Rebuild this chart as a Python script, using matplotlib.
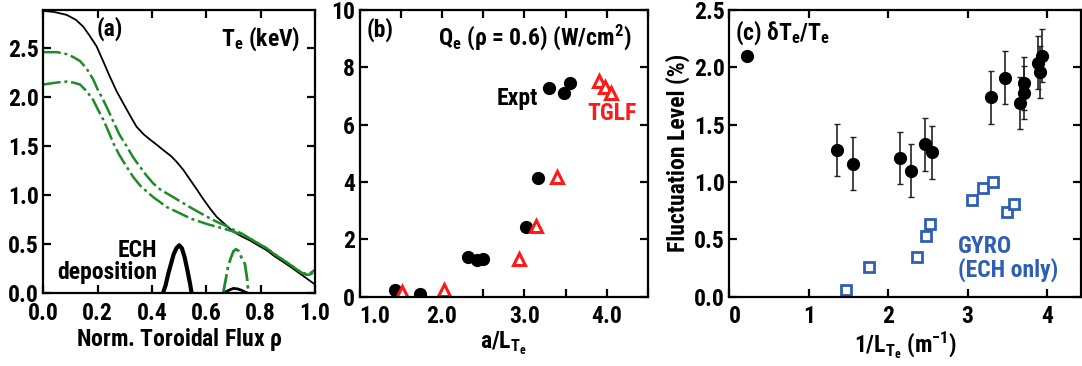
import matplotlib
matplotlib.use("Agg")
import matplotlib.pyplot as plt
from matplotlib import font_manager
from matplotlib.ticker import MultipleLocator, FormatStrFormatter

# ---------------- data ----------------
# panel (a): Te profiles
rho_te = [0.0, 0.04, 0.086, 0.12, 0.147, 0.17, 0.196, 0.22, 0.245, 0.27, 0.294, 0.32, 0.343,
          0.37, 0.392, 0.42, 0.442, 0.47, 0.491, 0.515, 0.54, 0.565, 0.589, 0.615, 0.638,
          0.67, 0.699, 0.73, 0.76, 0.79, 0.822, 0.85, 0.883, 0.915, 0.945, 0.975, 1.0]
te_black = [2.88, 2.87, 2.84, 2.79, 2.72, 2.63, 2.52, 2.37, 2.21, 2.06, 1.94, 1.81, 1.70,
            1.62, 1.57, 1.51, 1.46, 1.40, 1.34, 1.26, 1.16, 1.06, 0.96, 0.86, 0.78,
            0.70, 0.63, 0.58, 0.54, 0.49, 0.44, 0.38, 0.32, 0.26, 0.20, 0.14, 0.09]
rho_g = [0.0, 0.05, 0.086, 0.11, 0.135, 0.16, 0.184, 0.20, 0.221, 0.24, 0.258, 0.28, 0.307,
         0.33, 0.356, 0.38, 0.405, 0.43, 0.454, 0.485, 0.515, 0.545, 0.577, 0.61, 0.638,
         0.67, 0.699, 0.73, 0.76, 0.79, 0.822, 0.85, 0.883, 0.915, 0.945, 0.965, 0.98, 1.0]
te_green_hi = [2.46, 2.46, 2.44, 2.41, 2.37, 2.29, 2.18, 2.08, 1.97, 1.86, 1.75, 1.62, 1.50,
               1.39, 1.29, 1.20, 1.12, 1.06, 1.02, 0.97, 0.92, 0.87, 0.82, 0.77, 0.73,
               0.69, 0.65, 0.61, 0.56, 0.51, 0.46, 0.40, 0.34, 0.28, 0.22, 0.20, 0.20, 0.24]
te_green_lo = [2.13, 2.15, 2.16, 2.15, 2.13, 2.06, 1.97, 1.88, 1.77, 1.65, 1.53, 1.41, 1.29,
               1.19, 1.10, 1.04, 0.98, 0.93, 0.88, 0.84, 0.80, 0.76, 0.73, 0.70, 0.68,
               0.655, 0.63, 0.60, 0.56, 0.51, 0.46, 0.40, 0.34, 0.28, 0.22, 0.19, 0.19, 0.22]
# ECH deposition profiles
rho_ech_b = [0.44, 0.45, 0.46, 0.47, 0.48, 0.49, 0.50, 0.51, 0.52, 0.53, 0.54, 0.546]
ech_b = [0.0, 0.08, 0.20, 0.30, 0.40, 0.46, 0.49, 0.46, 0.37, 0.24, 0.10, 0.0]
rho_ech_b2 = [0.66, 0.675, 0.69, 0.70, 0.715, 0.73, 0.745, 0.755]
ech_b2 = [0.0, 0.02, 0.04, 0.05, 0.045, 0.03, 0.01, 0.0]
rho_ech_g = [0.662, 0.67, 0.68, 0.69, 0.70, 0.709, 0.72, 0.73, 0.742, 0.75, 0.755]
ech_g = [0.0, 0.12, 0.27, 0.36, 0.43, 0.45, 0.43, 0.36, 0.30, 0.15, 0.0]

# panel (b): Qe vs a/LTe
b_expt_x = [1.43, 1.73, 2.32, 2.43, 2.50, 3.02, 3.17, 3.30, 3.48, 3.55]
b_expt_y = [0.25, 0.10, 1.37, 1.27, 1.30, 2.42, 4.14, 7.27, 7.09, 7.47]
b_tglf_x = [1.52, 2.03, 2.93, 3.14, 3.39, 3.90, 3.98, 4.05]
b_tglf_y = [0.16, 0.25, 1.33, 2.48, 4.16, 7.51, 7.33, 7.12]

# panel (c): fluctuation level vs 1/LTe
c_expt_x = [0.22, 1.35, 1.56, 2.15, 2.29, 2.46, 2.55, 3.29, 3.47, 3.66, 3.71, 3.71, 3.89, 3.91, 3.94]
c_expt_y = [2.10, 1.28, 1.16, 1.21, 1.10, 1.33, 1.26, 1.74, 1.91, 1.69, 1.86, 1.78, 2.04, 1.96, 2.10]
c_expt_err = [0.0, 0.23, 0.23, 0.23, 0.23, 0.23, 0.23, 0.23, 0.23, 0.23, 0.23, 0.23, 0.23, 0.23, 0.23]
c_gyro_x = [1.47, 1.76, 2.36, 2.47, 2.53, 3.05, 3.19, 3.32, 3.50, 3.58]
c_gyro_y = [0.06, 0.26, 0.35, 0.53, 0.63, 0.84, 0.95, 1.00, 0.74, 0.81]

# ---------------- style ----------------
avail = {f.name for f in font_manager.fontManager.ttflist}
fam = [f for f in ["Roboto Condensed", "Archivo Narrow", "Liberation Sans", "DejaVu Sans"] if f in avail]
plt.rcParams['font.family'] = fam
plt.rcParams['font.weight'] = 'bold'
plt.rcParams['axes.labelweight'] = 'bold'
plt.rcParams['mathtext.fontset'] = 'custom'
plt.rcParams['mathtext.rm'] = fam[0] + ':bold'
plt.rcParams['mathtext.it'] = fam[0] + ':bold'
plt.rcParams['mathtext.bf'] = fam[0] + ':bold'
plt.rcParams['mathtext.default'] = 'rm'

FS = 17
GREEN = '#1f8a2a'
RED = '#ff1a1a'
BLUE = '#2f5fb3'

fig = plt.figure(figsize=(10.82, 3.66), dpi=100)

def style(ax):
    for s in ax.spines.values():
        s.set_linewidth(1.6)
    ax.tick_params(which='both', direction='in', top=True, right=True,
                   length=6, width=1.6, labelsize=FS, pad=3)
    ax.tick_params(axis='x', which='both', pad=6)

# panel (a)
axa = fig.add_axes([43.3/1082, 1-293.3/366, 271.7/1082, 283.3/366])
style(axa)
axa.plot(rho_te, te_black, color='black', lw=1.3)
dd = (0, (7, 1.5, 1.2, 1.5))
axa.plot(rho_g, te_green_hi, color=GREEN, lw=1.8, ls=dd)
axa.plot(rho_g, te_green_lo, color=GREEN, lw=1.8, ls=dd)
axa.plot(rho_ech_b, ech_b, color='black', lw=3.0)
axa.plot(rho_ech_b2, ech_b2, color='black', lw=2.0)
axa.plot(rho_ech_g, ech_g, color=GREEN, lw=2.0, ls=dd)
axa.set_xlim(0, 1.0)
axa.set_ylim(0, 2.89)
axa.xaxis.set_major_locator(MultipleLocator(0.2))
axa.yaxis.set_major_locator(MultipleLocator(0.5))
axa.xaxis.set_major_formatter(FormatStrFormatter('%.1f'))
axa.yaxis.set_major_formatter(FormatStrFormatter('%.1f'))
axa.set_xlabel(r'Norm. Toroidal Flux $\rho$', fontsize=FS, labelpad=1)
axa.text(0.245, 0.935, '(a)', transform=axa.transAxes, fontsize=FS, ha='center', va='center')
axa.text(0.945, 0.90, r'T$_\mathregular{e}$ (keV)', transform=axa.transAxes, fontsize=FS,
         ha='right', va='center')
axa.text(0.42, 0.112, 'ECH\ndeposition', transform=axa.transAxes, fontsize=FS,
         ha='right', ma='right', va='center', linespacing=0.95)

# panel (b)
axb = fig.add_axes([359.5/1082, 1-296.7/366, 288.5/1082, 286.7/366])
style(axb)
axb.plot(b_expt_x, b_expt_y, 'o', color='black', ms=8.5, ls='none')
axb.plot(b_tglf_x, b_tglf_y, '^', mfc='white', mec=RED, mew=2.2, ms=8.5, ls='none')
axb.set_xlim(1.0, 4.5)
axb.set_ylim(0, 10)
axb.xaxis.set_major_locator(MultipleLocator(1.0))
axb.xaxis.set_minor_locator(MultipleLocator(0.5))
axb.yaxis.set_major_locator(MultipleLocator(2))
axb.xaxis.set_major_formatter(FormatStrFormatter('%.1f'))
axb.set_xlabel(r'a/L$_\mathregular{T_e}$', fontsize=FS, labelpad=1)
axb.text(0.071, 0.93, '(b)', transform=axb.transAxes, fontsize=FS, ha='center', va='center')
axb.text(0.945, 0.905, r'Q$_\mathregular{e}$ ($\rho$ = 0.6) (W/cm$^\mathregular{2}$)',
         transform=axb.transAxes, fontsize=FS, ha='right', va='center')
axb.text(0.619, 0.69, 'Expt', transform=axb.transAxes, fontsize=FS, ha='right', va='center')
axb.text(0.962, 0.64, 'TGLF', transform=axb.transAxes, fontsize=FS, ha='right', va='center',
         color=RED)

# panel (c)
axc = fig.add_axes([729.3/1082, 1-296.7/366, 352.0/1082, 286.7/366])
style(axc)
axc.errorbar(c_expt_x, c_expt_y, yerr=c_expt_err, fmt='o', color='black', ms=8.5,
             ecolor='#222222', elinewidth=1.2, capsize=2.5, capthick=1.0)
axc.plot(c_gyro_x, c_gyro_y, 's', mfc='white', mec=BLUE, mew=2.0, ms=7, ls='none')
axc.set_xlim(0, 4.43)
axc.set_ylim(0, 2.5)
axc.xaxis.set_major_locator(MultipleLocator(1))
axc.yaxis.set_major_locator(MultipleLocator(0.5))
axc.yaxis.set_major_formatter(FormatStrFormatter('%.1f'))
axc.set_xlabel(r'1/L$_\mathregular{T_e}$ (m$^\mathregular{-1}$)', fontsize=FS, labelpad=1)
axc.set_ylabel('Fluctuation Level (%)', fontsize=FS, labelpad=3)
axc.text(0.016, 0.92, r'(c) $\delta$T$_\mathregular{e}$/T$_\mathregular{e}$',
         transform=axc.transAxes, fontsize=FS, ha='left', va='center')
axc.text(0.65, 0.133, 'GYRO\n(ECH only)', transform=axc.transAxes, fontsize=FS,
         ha='left', ma='left', va='center', color=BLUE, linespacing=0.95)

# shift the leftmost tick labels of panels (b) and (c) to sit inside the axes, as in the original
fig.canvas.draw()
for ax, txt in ((axb, '1.0'), (axc, '0')):
    for tk in ax.xaxis.get_major_ticks():
        if tk.label1.get_text() == txt:
            tk.label1.set_horizontalalignment('left' if ax is axb else 'center')
            if ax is axc:
                import matplotlib.transforms as mtransforms
                tk.label1.set_transform(tk.label1.get_transform() +
                                        mtransforms.ScaledTranslation(4/72, 0, fig.dpi_scale_trans))

fig.savefig('out.png', dpi=100)
